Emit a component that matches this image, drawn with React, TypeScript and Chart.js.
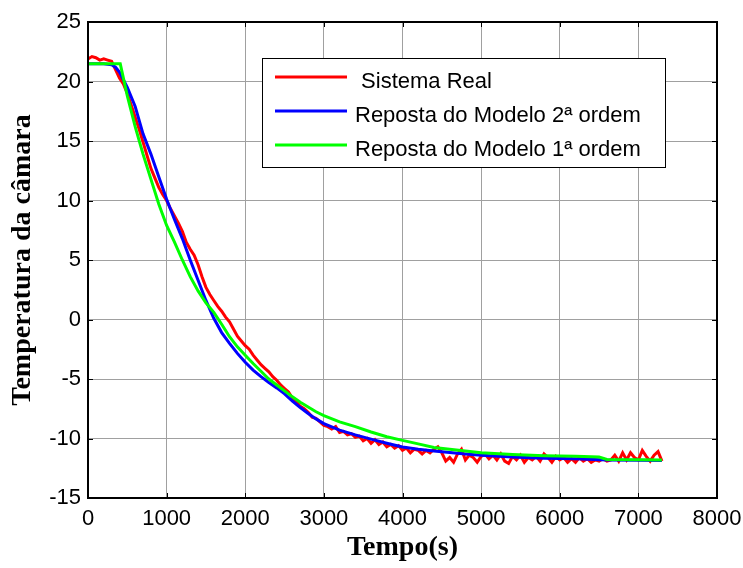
import React, { useEffect, useRef } from "react";
import { Chart, registerables } from "chart.js";

Chart.register(...registerables);

// ---- Data ----
const tempoReal = [
  0, 50, 100, 150, 200, 250, 300, 350, 400, 450, 500, 550, 600, 650, 700, 750, 800, 850, 900, 950,
  1000, 1050, 1100, 1150, 1200, 1250, 1300, 1350, 1400, 1450, 1500, 1550, 1600, 1650, 1700, 1750, 1800, 1850, 1900, 1950,
  2000, 2050, 2100, 2150, 2200, 2250, 2300, 2350, 2400, 2450, 2500, 2550, 2600, 2650, 2700, 2750, 2800, 2850, 2900, 2950,
  3000, 3050, 3100, 3150, 3200, 3250, 3300, 3350, 3400, 3450, 3500, 3550, 3600, 3650, 3700, 3750, 3800, 3850, 3900, 3950,
  4000, 4050, 4100, 4150, 4200, 4250, 4300, 4350, 4400, 4450, 4500, 4550, 4600, 4650, 4700, 4750, 4800, 4850, 4900, 4950,
  5000, 5050, 5100, 5150, 5200, 5250, 5300, 5350, 5400, 5450, 5500, 5550, 5600, 5650, 5700, 5750, 5800, 5850, 5900, 5950,
  6000, 6050, 6100, 6150, 6200, 6250, 6300, 6350, 6400, 6450, 6500, 6550, 6600, 6650, 6700, 6750, 6800, 6850, 6900, 6950,
  7000, 7050, 7100, 7150, 7200, 7250, 7300,
];
const sistemaReal = [
  21.9, 22.1, 22.0, 21.8, 21.9, 21.8, 21.7, 21.0, 20.3, 19.8, 19.0, 18.0, 17.0, 16.0, 14.9, 13.8, 12.7, 11.9, 11.1, 10.5,
  10.0, 9.3, 8.7, 8.1, 7.4, 6.5, 5.9, 5.4, 4.6, 3.6, 2.7, 2.1, 1.6, 1.1, 0.7, 0.2, -0.2, -0.8, -1.4, -1.8,
  -2.2, -2.5, -3.0, -3.4, -3.8, -4.1, -4.4, -4.8, -5.1, -5.5, -5.8, -6.1, -6.6, -6.9, -7.3, -7.5, -7.8, -8.2, -8.3, -8.6,
  -8.9, -9.0, -9.2, -9.0, -9.5, -9.4, -9.7, -9.6, -9.9, -9.8, -10.2, -10.0, -10.4, -10.1, -10.5, -10.3, -10.7, -10.5, -10.8, -10.6,
  -11.0, -10.8, -11.2, -10.9, -11.0, -11.3, -11.0, -11.2, -10.9, -10.7, -11.2, -11.9, -11.6, -12.0, -11.3, -10.9, -11.8, -11.4, -11.6, -12.0,
  -11.5, -11.3, -11.7, -11.4, -11.8, -11.3, -11.9, -12.1, -11.5, -11.8, -11.4, -12.0, -11.6, -11.8, -11.5, -11.9, -11.3, -11.6, -12.0, -11.5,
  -11.8, -11.6, -12.0, -11.7, -12.0, -11.6, -11.9, -11.7, -12.0, -11.8, -11.9, -11.7, -11.9, -11.8, -11.4, -11.9, -11.2, -11.8, -11.2, -11.6,
  -11.8, -11.0, -11.5, -11.9, -11.4, -11.1, -11.9,
];

const tempoModelo2 = [
  0, 100, 200, 300, 350, 400, 500, 600, 700, 800, 900, 1000, 1100, 1200, 1300, 1400, 1500, 1600, 1700, 1800,
  1900, 2000, 2100, 2200, 2300, 2400, 2500, 2600, 2700, 2800, 2900, 3000, 3200, 3400, 3600, 3800, 4000, 4200, 4400, 4600,
  4800, 5000, 5400, 5800, 6200, 6600, 7000, 7300,
];
const modelo2 = [
  21.5, 21.5, 21.5, 21.4, 21.2, 20.8, 19.5, 17.9, 15.6, 13.9, 12.0, 10.1, 8.4, 6.8, 5.0, 3.3, 1.6, 0.1, -1.1, -2.0,
  -2.85, -3.6, -4.25, -4.8, -5.3, -5.75, -6.25, -6.85, -7.4, -7.9, -8.35, -8.75, -9.3, -9.7, -10.05, -10.4, -10.72, -10.9, -11.05, -11.18,
  -11.3, -11.4, -11.55, -11.65, -11.7, -11.8, -11.82, -11.85,
];

const tempoModelo1 = [
  0, 100, 200, 300, 410, 500, 600, 700, 800, 900, 1000, 1100, 1200, 1300, 1400, 1500, 1600, 1700, 1800, 1900,
  2000, 2100, 2200, 2300, 2400, 2500, 2600, 2700, 2800, 2900, 3000, 3200, 3400, 3600, 3800, 4000, 4200, 4400, 4600, 4800,
  5000, 5400, 5800, 6200, 6500, 6600, 7000, 7300,
];
const modelo1 = [
  21.5, 21.5, 21.5, 21.5, 21.5, 18.8, 16.2, 13.9, 11.8, 9.7, 7.9, 6.5, 5.0, 3.6, 2.4, 1.4, 0.6, -0.4, -1.45, -2.3,
  -3.0, -3.7, -4.35, -5.0, -5.5, -6.0, -6.5, -6.95, -7.35, -7.75, -8.07, -8.6, -9.0, -9.45, -9.85, -10.16, -10.45, -10.75, -10.9, -11.05,
  -11.2, -11.35, -11.45, -11.5, -11.56, -11.76, -11.78, -11.8,
];

const xTicks = [0, 1000, 2000, 3000, 4000, 5000, 6000, 7000, 8000];
const yTicks = [-15, -10, -5, 0, 5, 10, 15, 20, 25];
const legendLabels = [" Sistema Real", "Reposta do Modelo 2ª ordem", "Reposta do Modelo 1ª ordem"];
const seriesColors = ["#ff0000", "#0000ff", "#00ff00"];
const xTitle = "Tempo(s)";
const yTitle = "Temperatura da câmara";

const toPoints = (xs: number[], ys: number[]) => xs.map((x, i) => ({ x, y: ys[i] }));

const framePlugin = {
  id: "matlabFrame",
  afterDatasetsDraw(chart: any) {
    const { ctx, chartArea: a, scales } = chart;
    ctx.save();
    ctx.strokeStyle = "#000";
    ctx.lineWidth = 1;
    ctx.beginPath();
    for (const v of xTicks) {
      const px = Math.round(scales.x.getPixelForValue(v)) + 0.5;
      ctx.moveTo(px, a.bottom);
      ctx.lineTo(px, a.bottom - 5);
      ctx.moveTo(px, a.top);
      ctx.lineTo(px, a.top + 5);
    }
    for (const v of yTicks) {
      const py = Math.round(scales.y.getPixelForValue(v)) + 0.5;
      ctx.moveTo(a.left, py);
      ctx.lineTo(a.left + 5, py);
      ctx.moveTo(a.right, py);
      ctx.lineTo(a.right - 5, py);
    }
    ctx.stroke();
    ctx.lineWidth = 2;
    ctx.strokeRect(a.left, a.top, a.right - a.left, a.bottom - a.top);
    ctx.restore();
  },
  afterDraw(chart: any) {
    const { ctx } = chart;
    const bx = 262, by = 58, bw = 403, bh = 109;
    ctx.save();
    ctx.fillStyle = "#fff";
    ctx.fillRect(bx, by, bw, bh);
    ctx.strokeStyle = "#000";
    ctx.lineWidth = 1;
    ctx.strokeRect(bx + 0.5, by + 0.5, bw, bh);
    ctx.font = '22px "Liberation Sans", Arial, sans-serif';
    ctx.textBaseline = "alphabetic";
    ctx.textAlign = "left";
    legendLabels.forEach((label, i) => {
      const ly = 77 + i * 34;
      ctx.strokeStyle = seriesColors[i];
      ctx.lineWidth = 3;
      ctx.beginPath();
      ctx.moveTo(275, ly);
      ctx.lineTo(347, ly);
      ctx.stroke();
      ctx.fillStyle = "#000";
      ctx.fillText(label, 355, ly + 11);
    });
    ctx.restore();
  },
};

export default function App() {
  const canvasRef = useRef<HTMLCanvasElement | null>(null);

  useEffect(() => {
    const canvas = canvasRef.current;
    if (!canvas) return;
    const chart = new Chart(canvas, {
      type: "line",
      data: {
        datasets: [
          {
            label: legendLabels[0],
            data: toPoints(tempoReal, sistemaReal),
            borderColor: seriesColors[0],
            borderWidth: 3,
            pointRadius: 0,
            tension: 0,
            fill: false,
            order: 3,
          },
          {
            label: legendLabels[1],
            data: toPoints(tempoModelo2, modelo2),
            borderColor: seriesColors[1],
            borderWidth: 3,
            pointRadius: 0,
            tension: 0,
            fill: false,
            order: 2,
          },
          {
            label: legendLabels[2],
            data: toPoints(tempoModelo1, modelo1),
            borderColor: seriesColors[2],
            borderWidth: 3,
            pointRadius: 0,
            tension: 0,
            fill: false,
            order: 1,
          },
        ],
      },
      options: {
        responsive: false,
        animation: false,
        devicePixelRatio: 1,
        layout: { padding: { left: 0, right: 26, top: 22, bottom: 0 } },
        plugins: { legend: { display: false }, tooltip: { enabled: false } },
        scales: {
          x: {
            type: "linear",
            min: 0,
            max: 8000,
            afterFit: (s: any) => {
              s.height = 70;
              s.paddingLeft = 0;
              s.paddingRight = 0;
            },
            afterBuildTicks: (s: any) => {
              s.ticks = xTicks.map((v) => ({ value: v }));
            },
            ticks: {
              autoSkip: false,
              maxRotation: 0,
              padding: 8,
              color: "#000",
              callback: (v: any) => String(v),
              font: { family: '"Liberation Sans", Arial, sans-serif', size: 22 },
            },
            grid: { color: "#a0a0a0", lineWidth: 1, drawTicks: false },
            border: { display: false },
            title: {
              display: true,
              text: xTitle,
              color: "#000",
              padding: { top: 0, bottom: 3 },
              font: { family: '"Liberation Serif", "Times New Roman", serif', size: 28, weight: "bold" },
            },
          },
          y: {
            type: "linear",
            min: -15,
            max: 25,
            afterFit: (s: any) => {
              s.width = 88;
              s.paddingTop = 0;
              s.paddingBottom = 0;
            },
            afterBuildTicks: (s: any) => {
              s.ticks = yTicks.map((v) => ({ value: v }));
            },
            ticks: {
              autoSkip: false,
              padding: 7,
              color: "#000",
              callback: (v: any) => String(v),
              font: { family: '"Liberation Sans", Arial, sans-serif', size: 22 },
            },
            grid: { color: "#a0a0a0", lineWidth: 1, drawTicks: false },
            border: { display: false },
            title: {
              display: true,
              text: yTitle,
              color: "#000",
              padding: { top: 6, bottom: 0 },
              font: { family: '"Liberation Serif", "Times New Roman", serif', size: 28, weight: "bold" },
            },
          },
        },
      },
      plugins: [framePlugin],
    });
    return () => chart.destroy();
  }, []);

  return (
    <div style={{ position: "absolute", left: 0, top: 0, width: 743, height: 568, background: "#fff" }}>
      <canvas ref={canvasRef} width={743} height={568} style={{ width: 743, height: 568, display: "block" }} />
    </div>
  );
}
